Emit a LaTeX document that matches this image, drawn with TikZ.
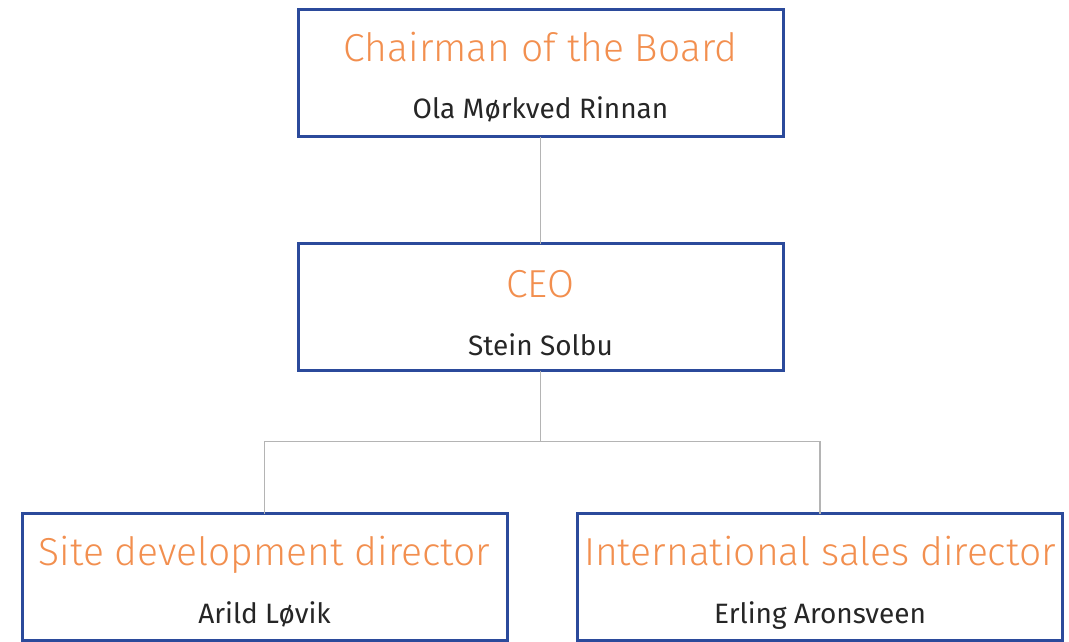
\documentclass[tikz,border=0pt]{standalone}
\usepackage{fontspec}
\setmainfont{Fira Sans}
\newfontfamily\lightfont{Fira Sans Light}
\usetikzlibrary{positioning}
\definecolor{boxblue}{HTML}{2B4A9B}
\definecolor{titleorange}{HTML}{F28F4F}
\definecolor{namegray}{HTML}{262626}
\definecolor{linegray}{HTML}{B4B4B4}

\begin{document}
\begin{tikzpicture}[x=1pt, y=-1pt,
    orgbox/.style={draw=boxblue, line width=3pt, minimum width=485pt, minimum height=127pt, inner sep=0pt, outer sep=0pt},
    role/.style={anchor=base, font=\lightfont\fontsize{39}{44}\selectfont, text=titleorange, inner sep=0pt},
    person/.style={anchor=base, font=\fontsize{28}{32}\selectfont, text=namegray, inner sep=0pt},
    link/.style={draw=linegray, line width=1.8pt}]
    \useasboundingbox (0,0) rectangle (1069,641);

    % Boxes
    \node[orgbox] (Chairman) at (540.5,73) {};
    \node[orgbox, below=107pt of Chairman] (CEO) {};
    \node[orgbox, below=143pt of CEO, xshift=-276pt] (SiteDir) {};
    \node[orgbox, below=143pt of CEO, xshift=279.5pt] (SalesDir) {};

    % Titles and names
    \node[role] (ChairmanRole) at ([yshift=-52pt]Chairman.north) {Chairman of the Board};
    \node[person] (ChairmanName) at ([yshift=-109pt]Chairman.north) {Ola Mørkved Rinnan};
    \node[role] (CEORole) at ([yshift=-54pt]CEO.north) {CEO};
    \node[person] (CEOName) at ([yshift=-112pt]CEO.north) {Stein Solbu};
    \node[role] (SiteDirRole) at ([yshift=-52pt]SiteDir.north) {Site development director};
    \node[person] (SiteDirName) at ([yshift=-110pt]SiteDir.north) {Arild Løvik};
    \node[role] (SalesDirRole) at ([yshift=-52pt]SalesDir.north) {International sales director};
    \node[person] (SalesDirName) at ([yshift=-110pt]SalesDir.north) {Erling Aronsveen};

    % Lines
    \coordinate (split) at ([yshift=-71pt]CEO.south);
    \draw[link] (Chairman) -- (CEO);
    \draw[link] (CEO.south) -- (split);
    \draw[link] (split) -| (SiteDir.north);
    \draw[link] (split) -| (SalesDir.north);
\end{tikzpicture}
\end{document}
